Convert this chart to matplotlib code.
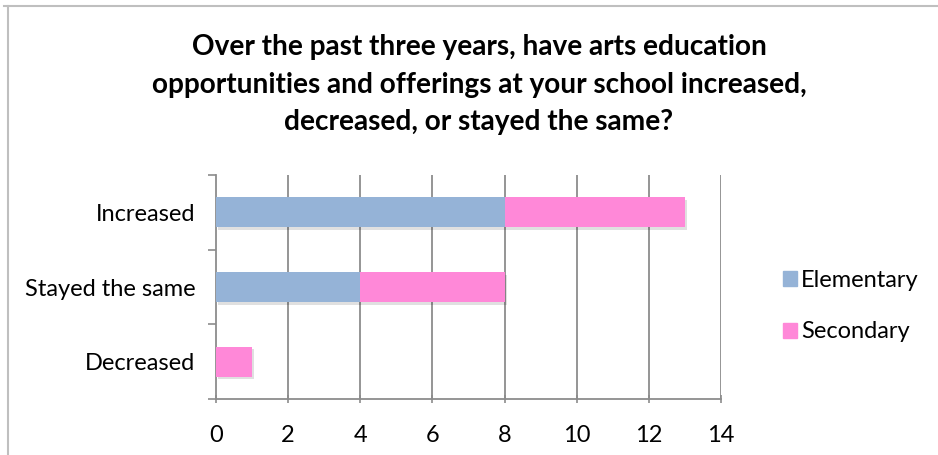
import matplotlib.pyplot as plt
from matplotlib.patches import Rectangle
from matplotlib.lines import Line2D

plt.rcParams['font.family'] = ['Lato', 'DejaVu Sans']

categories = ["Decreased", "Stayed the same", "Increased"]
elementary = [0, 4, 8]
secondary = [1, 4, 5]
xticks = [0, 2, 4, 6, 8, 10, 12, 14]

title_lines = ["Over the past three years, have arts education",
               "opportunities and offerings at your school increased,",
               "decreased, or stayed the same?"]

blue = "#95B3D7"
pink = "#FF88D8"
grid_c = "#8C8C8C"

W, H = 938, 455
fig = plt.figure(figsize=(W / 100, H / 100), dpi=100)

# outer chart frame (top and left edges)
fig.add_artist(Line2D([4 / W, 1], [1 - 6 / H, 1 - 6 / H], color="#BFBFBF", lw=1.5))
fig.add_artist(Line2D([8 / W, 8 / W], [1 - 6 / H, 0], color="#BFBFBF", lw=1.5))

ax = fig.add_axes([216 / W, 1 - 399 / H, (721 - 216) / W, (399 - 175) / H])

y = range(len(categories))
h = 0.4
# soft drop shadow under each stacked bar
for yi, e, s in zip(y, elementary, secondary):
    tot = e + s
    ax.add_patch(Rectangle((0.06, yi - h / 2 - 0.035), tot, h, color="#000000",
                           alpha=0.12, lw=0, zorder=2))
ax.barh(y, elementary, height=h, color=blue, label="Elementary", zorder=3)
ax.barh(y, secondary, left=elementary, height=h, color=pink, label="Secondary", zorder=3)

ax.set_xlim(0, 14)
ax.set_ylim(-0.5, 2.5)
ax.set_xticks(xticks)
ax.set_xticklabels([str(v) for v in xticks], fontsize=17)
ax.set_yticks(list(y))
ax.set_yticklabels(categories, fontsize=17)
ax.set_yticks([-0.5, 0.5, 1.5, 2.5], minor=True)
ax.tick_params(axis="y", which="major", length=0, pad=15)
ax.tick_params(axis="y", which="minor", length=6, color=grid_c, width=1.2, direction="out")
ax.tick_params(axis="x", length=6, color=grid_c, width=1.2, direction="inout", pad=16)

for v in xticks[1:]:
    ax.axvline(v, color=grid_c, lw=1.3, zorder=1)

for s in ["top", "right"]:
    ax.spines[s].set_visible(False)
for s in ["left", "bottom"]:
    ax.spines[s].set_color(grid_c)
    ax.spines[s].set_linewidth(1.3)

for line, yc in zip(title_lines, [47, 85, 122]):
    fig.text(479 / W, 1 - yc / H, line, ha="center", va="center", fontsize=20.2,
             fontweight="bold", color="#000000")

handles = [Rectangle((0, 0), 1, 1, color=blue), Rectangle((0, 0), 1, 1, color=pink)]
fig.legend(handles, ["Elementary", "Secondary"], loc="center left",
           bbox_to_anchor=(762 / W, 1 - 306 / H), frameon=False, fontsize=17,
           handlelength=0.6, handleheight=0.6, handletextpad=0.15, labelspacing=1.3)

fig.savefig("out.png", dpi=100)
